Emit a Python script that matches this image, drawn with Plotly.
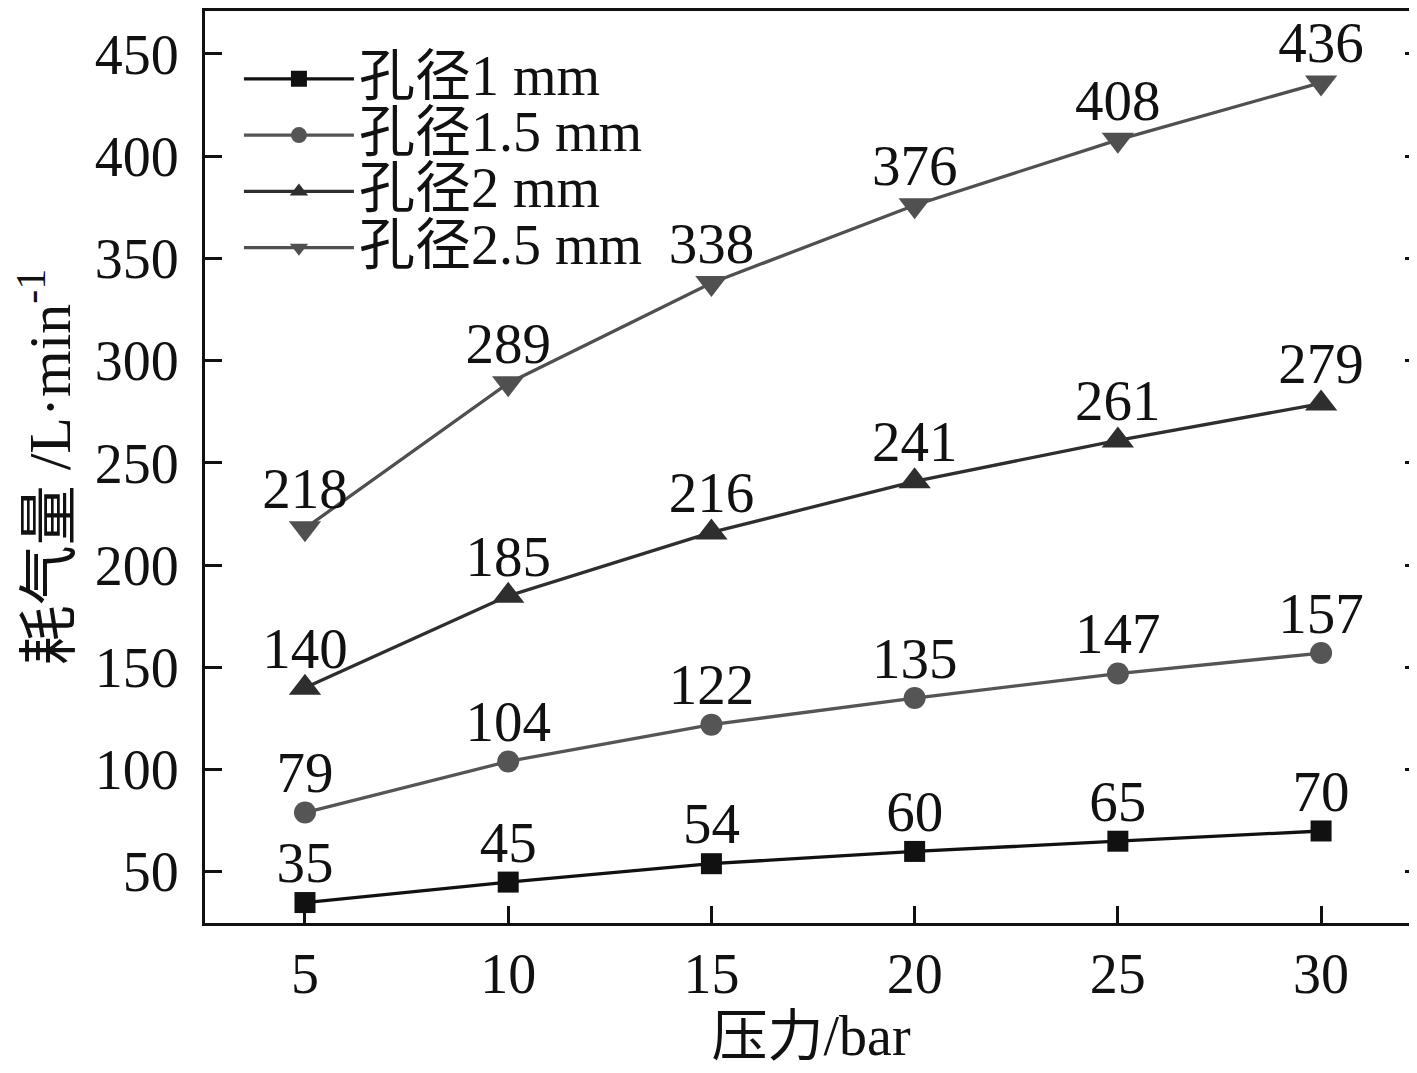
import plotly.graph_objects as go

pressure = [5, 10, 15, 20, 25, 30]
d1 = [35, 45, 54, 60, 65, 70]
d15 = [79, 104, 122, 135, 147, 157]
d2 = [140, 185, 216, 241, 261, 279]
d25 = [218, 289, 338, 376, 408, 436]
yticks = [50, 100, 150, 200, 250, 300, 350, 400, 450]

names = ['孔径1 mm', '孔径1.5 mm', '孔径2 mm', '孔径2.5 mm']
colors = ['#111111', '#555555', '#2e2e2e', '#505050']
symbols = ['square', 'circle', 'triangle-up', 'triangle-down']
sizes = [21, 22, 28, 28]

FONT = 'Liberation Serif, Times New Roman, Noto Sans CJK SC, serif'

fig = go.Figure()
for name, ys, c, s, sz in zip(names, [d1, d15, d2, d25], colors, symbols, sizes):
    fig.add_trace(go.Scatter(
        x=pressure, y=ys, name='<span style="font-size:56px">' + name + '</span>',
        mode='lines+markers',
        line=dict(color=c, width=3.3),
        marker=dict(symbol=s, size=sz, color=c),
    ))
    # value labels: small transparent markers give a fixed offset above each point
    fig.add_trace(go.Scatter(
        x=pressure, y=ys, mode='markers+text', showlegend=False, hoverinfo='skip',
        text=[str(v) for v in ys], textposition='top center',
        textfont=dict(size=57, color='#111111', family=FONT),
        marker=dict(size=8, opacity=0),
        cliponaxis=False,
    ))

# invisible trace to carry the right-side tick marks
fig.add_trace(go.Scatter(x=[pressure[0]], y=[d1[0]], yaxis='y2', showlegend=False,
                         mode='markers', marker=dict(opacity=0), hoverinfo='skip'))

axis_common = dict(showgrid=False, zeroline=False, linecolor='#111111', linewidth=3,
                   ticks='inside', ticklen=17, tickwidth=3, tickcolor='#111111',
                   automargin=False,
                   tickfont=dict(size=56, family=FONT, color='#111111'))

fig.update_layout(
    width=1409, height=1065,
    paper_bgcolor='white', plot_bgcolor='white',
    margin=dict(l=197, r=0, t=3, b=150),
    font=dict(family=FONT, color='#111111'),
    xaxis=dict(range=[2.54, 32.36], tickvals=pressure, showline=True, mirror=True,
               ticklabelstandoff=0,
               title=dict(text='压力/bar', font=dict(size=56, family=FONT), standoff=6),
               **axis_common),
    yaxis=dict(range=[25, 471], tickvals=yticks,
               showline=True, ticklabelstandoff=12,
               title=dict(text='耗气量 /L·min<sup>-1</sup>', font=dict(size=60, family=FONT), standoff=6),
               **axis_common),
    yaxis2=dict(overlaying='y', side='right', matches='y', showline=False, showgrid=False,
                zeroline=False, ticks='inside', ticklen=12, tickwidth=3, tickcolor='#111111',
                showticklabels=False, tickvals=yticks, automargin=False),
    legend=dict(x=0.028, y=0.962, xanchor='left', yanchor='top', bgcolor='rgba(0,0,0,0)',
                font=dict(size=41, family=FONT, color='#111111'), itemwidth=110,
                tracegroupgap=0),
    showlegend=True,
)

fig.write_html('out.html')
